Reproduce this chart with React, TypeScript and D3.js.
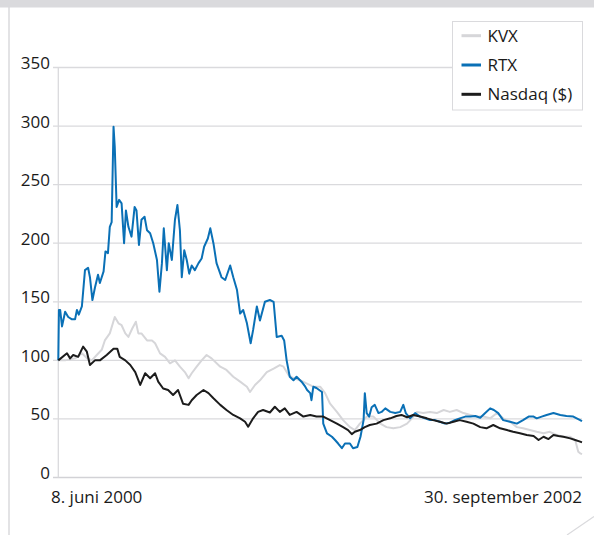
import React from "react";
import * as d3 from "d3";

// days after 8. juni 2000, index (8. juni 2000 = 100)
const kvx: [number, number][] = [
  [0, 100], [11, 100], [27, 101.7], [38, 106], [46, 102], [54, 100], [62, 104.6],
  [70, 109], [75, 117], [83, 123], [91, 137], [97, 131.6], [102, 130], [108, 123],
  [113, 120], [119, 127], [125, 133], [129, 123], [134, 123], [143, 117], [151, 117],
  [156, 114.6], [164, 106], [172, 103], [180, 97.5], [188, 100], [196, 94.6],
  [204, 90], [210, 84.7], [215, 89], [223, 94.6], [231, 100], [239, 104.6],
  [247, 101.7], [261, 94.6], [271, 91.8], [282, 86], [293, 81.8], [304, 77.5],
  [309, 73], [317, 79], [325, 83], [336, 90], [347, 93], [357, 96], [363, 94.6],
  [371, 87.5], [379, 84.7], [390, 83], [400, 80.4], [411, 77.5], [422, 77.5],
  [430, 72], [438, 63], [449, 56], [459, 49], [470, 43], [478, 40.5], [486, 46],
  [497, 52], [508, 52], [519, 46], [529, 43], [540, 42], [551, 43], [562, 46],
  [570, 50.5], [578, 56], [588, 55], [599, 56], [610, 55], [621, 57.6], [631, 56],
  [642, 57.6], [653, 55], [664, 53.4], [674, 52], [685, 52], [696, 50.5], [707, 55],
  [717, 50.5], [728, 47.6], [739, 43], [749, 42], [760, 40.5], [771, 39], [782, 37.7],
  [792, 39], [803, 36.3], [814, 34.8], [825, 34.8], [833, 32], [838, 22], [841, 20.6],
  [844, 20],
];

const rtx: [number, number][] = [
  [0, 100], [1, 143], [3, 143], [6, 129], [11, 141.5], [16, 137], [22, 135], [27, 135],
  [30, 143], [33, 139], [38, 146], [43, 177], [48, 179], [51, 171], [55, 151.5],
  [59, 162], [64, 173], [67, 166], [73, 176], [76, 193], [80, 191.5], [83, 214],
  [86, 218], [89, 299.5], [91, 282], [94, 231], [98, 237], [102, 234], [106, 200],
  [109, 228], [113, 214], [118, 205.6], [123, 231], [126, 228], [130, 198.5],
  [134, 220], [139, 222.6], [143, 211], [148, 208.5], [153, 200], [159, 185.7],
  [163, 158.6], [167, 183], [170, 212.7], [175, 177], [178, 200], [183, 185.7],
  [188, 220], [192, 232.6], [196, 211], [199, 171], [203, 194], [207, 185.7],
  [211, 174], [215, 181], [220, 177], [226, 183], [231, 187], [235, 197], [241, 204],
  [245, 212.7], [250, 200], [255, 183], [263, 171], [269, 168.6], [277, 181],
  [282, 171], [288, 160], [293, 140], [298, 143], [304, 131.6], [310, 114.6],
  [314, 126], [320, 146], [325, 134], [333, 150], [341, 151.5], [347, 150], [352, 120],
  [360, 121], [364, 117], [368, 100], [373, 86], [379, 83], [384, 86], [392, 81.8],
  [398, 77.5], [401, 74.7], [406, 72], [408, 66], [411, 77.5], [416, 76.4], [425, 73],
  [427, 46], [433, 37.7], [441, 34.8], [446, 32], [451, 29], [457, 25], [462, 29],
  [470, 29], [475, 25], [482, 26], [487, 34.8], [492, 49], [494, 72], [497, 55],
  [501, 52], [505, 60], [510, 62], [516, 55], [521, 56], [527, 59], [535, 56],
  [543, 55], [551, 56], [556, 62], [560, 55], [567, 50.5], [575, 55], [583, 52],
  [591, 50.5], [599, 49], [607, 49], [615, 47.6], [623, 46], [631, 46.8], [639, 49],
  [647, 50.5], [656, 52], [664, 52], [672, 52.5], [680, 51], [688, 55], [696, 59],
  [702, 57.6], [709, 55], [717, 49], [728, 47.6], [739, 46], [749, 49], [758, 52],
  [766, 52], [771, 50.5], [779, 52], [787, 53.4], [798, 55], [809, 53.4], [819, 52.5],
  [830, 52], [841, 49], [844, 48],
];

const nasdaq: [number, number][] = [
  [0, 100], [14, 106], [19, 101.7], [24, 104.6], [32, 103], [40, 111.7], [46, 107.4],
  [51, 96], [59, 100], [67, 100], [78, 104.6], [89, 110], [95, 110], [99, 103],
  [108, 100], [116, 96], [124, 90], [132, 79], [140, 89], [148, 84.7], [156, 89],
  [161, 81.8], [169, 76], [177, 74.7], [185, 70.4], [193, 74.7], [201, 63], [210, 62],
  [215, 66], [223, 70.4], [234, 74.7], [242, 72], [250, 67.6], [261, 62], [271, 57.6],
  [282, 53.4], [293, 50.5], [301, 47.6], [306, 43.4], [314, 50.5], [322, 56],
  [330, 57.6], [341, 55.5], [349, 60.4], [357, 56], [365, 59], [373, 53.4], [384, 56],
  [395, 52], [406, 53.4], [416, 52], [427, 52], [438, 49], [449, 46], [459, 43],
  [467, 40.5], [473, 37], [478, 39], [486, 40.5], [494, 43], [502, 44.8], [513, 46],
  [524, 49], [535, 50.5], [545, 52.5], [553, 53.4], [562, 51.4], [572, 53.4], [583, 52],
  [594, 50.5], [604, 49], [615, 47.6], [626, 46], [637, 47.6], [647, 49], [658, 47.6],
  [669, 46], [680, 43], [690, 42], [701, 44.8], [712, 42], [723, 40.5], [733, 39],
  [744, 37.7], [755, 36.3], [766, 35.4], [774, 32], [782, 34.8], [790, 32.8],
  [798, 36.3], [806, 35.4], [814, 34.8], [825, 33.4], [833, 32], [841, 30.6], [844, 30],
];

const series = [
  { name: "KVX", data: kvx, color: "#d6d6d9" },
  { name: "RTX", data: rtx, color: "#0a70b6" },
  { name: "Nasdaq ($)", data: nasdaq, color: "#1c1c1c" },
];

const yTicks = [0, 50, 100, 150, 200, 250, 300, 350];
const startDate = new Date(2000, 5, 8);
const endDate = new Date(2002, 8, 30);
const startLabel = "8. juni 2000";
const endLabel = "30. september 2002";

const W = 594;
const H = 535;
const font = "'Open Sans', 'Noto Sans', sans-serif";
const grid = "#dadadd";

export default function App() {
  const x = d3.scaleTime().domain([startDate, endDate]).range([58.3, 582]);
  const y = d3.scaleLinear().domain([0, 350]).range([477.5, 67.5]);

  const line = d3
    .line<[number, number]>()
    .x((d) => x(d3.timeDay.offset(startDate, d[0])))
    .y((d) => y(d[1]));

  return (
    <svg
      width={W}
      height={H}
      style={{ position: "absolute", left: 0, top: 0, background: "#fff" }}
      fontFamily={font}
    >
      {/* page frame */}
      <rect x={0} y={0} width={W} height={7.5} fill={grid} />
      <line x1={9} x2={9} y1={7} y2={H} stroke={grid} strokeWidth={1.5} />
      <line x1={W} y1={516.5} x2={567} y2={H} stroke={grid} strokeWidth={1.2} />

      {/* grid */}
      {yTicks.map((t) => (
        <g key={t}>
          <line x1={53} x2={582} y1={y(t)} y2={y(t)} stroke={t === 0 ? "#d2d2d6" : grid} strokeWidth={1.3} />
          <text x={50} y={y(t) + 1.5} textAnchor="end" fontSize={17} fill="#1a1a1a">
            {t}
          </text>
        </g>
      ))}
      <line x1={58.3} x2={58.3} y1={y(350)} y2={y(0)} stroke={grid} strokeWidth={1.3} />

      {/* series */}
      {series.map((s) => (
        <path
          key={s.name}
          d={line(s.data) || ""}
          fill="none"
          stroke={s.color}
          strokeWidth={2}
          strokeLinejoin="round"
        />
      ))}

      {/* x labels */}
      <text x={51} y={503} fontSize={17} fill="#1a1a1a">
        {startLabel}
      </text>
      <text x={582} y={503} fontSize={17} textAnchor="end" fill="#1a1a1a">
        {endLabel}
      </text>

      {/* legend */}
      <rect x={452.5} y={21.5} width={130} height={88.5} fill="#fff" stroke={grid} strokeWidth={1} />
      {series.map((s, i) => (
        <g key={s.name} transform={`translate(0, ${35.7 + i * 29.3})`}>
          <line x1={461.5} x2={481} y1={0} y2={0} stroke={s.color} strokeWidth={3} />
          <text x={487.5} y={6} fontSize={17} fill="#1a1a1a">
            {s.name}
          </text>
        </g>
      ))}
    </svg>
  );
}
